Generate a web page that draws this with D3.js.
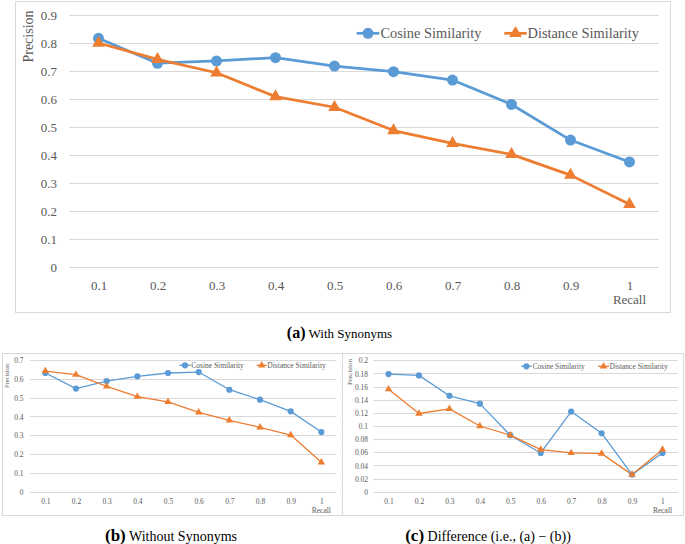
<!DOCTYPE html>
<html>
<head>
<meta charset="utf-8">
<script src="https://cdn.jsdelivr.net/npm/d3@7"></script>
<style>
  body { margin: 0; background: #fff; }
  svg text { font-family: "Liberation Serif", "Times New Roman", serif; }
  .tick text { fill: #595959; }
</style>
</head>
<body>
<div id="chart"></div>
<script>
// Recall levels (x categories)
const recall = ["0.1", "0.2", "0.3", "0.4", "0.5", "0.6", "0.7", "0.8", "0.9", "1"];

// (a) with synonyms
const cosineWith   = [0.817, 0.728, 0.736, 0.748, 0.718, 0.698, 0.668, 0.581, 0.454, 0.376];
const distanceWith = [0.800, 0.742, 0.694, 0.609, 0.571, 0.488, 0.442, 0.403, 0.329, 0.225];

// (b) without synonyms
const cosineWithout   = [0.631, 0.548, 0.588, 0.613, 0.631, 0.636, 0.542, 0.489, 0.427, 0.317];
const distanceWithout = [0.641, 0.622, 0.560, 0.505, 0.478, 0.422, 0.379, 0.342, 0.301, 0.156];

// (c) difference
const cosineDiff   = [0.179, 0.177, 0.146, 0.134, 0.086, 0.059, 0.122, 0.089, 0.026, 0.059];
const distanceDiff = [0.156, 0.119, 0.126, 0.100, 0.086, 0.064, 0.059, 0.058, 0.026, 0.064];

// y tick labels
const yTicksWith    = ["0", "0.1", "0.2", "0.3", "0.4", "0.5", "0.6", "0.7", "0.8", "0.9"];
const yTicksWithout = ["0", "0.1", "0.2", "0.3", "0.4", "0.5", "0.6", "0.7"];
const yTicksDiff    = ["0", "0.02", "0.04", "0.06", "0.08", "0.1", "0.12", "0.14", "0.16", "0.18", "0.2"];

const seriesNames = ["Cosine Similarity", "Distance Similarity"];
const BLUE = "#5b9bd5", ORANGE = "#ed7d31", GRID = "#d9d9d9";

const svg = d3.select("#chart").append("svg").attr("width", 685).attr("height", 544);

/*
 p: layout of one panel
 box [x0, y0, x1, y1], plot [x0, x1, yBottom, yTop]
*/
function drawPanel(p, cos, dist, yTicks) {
	const g = svg.append("g");

	g.append("rect")
		.attr("x", p.box[0] + 0.5).attr("y", p.box[1] + 0.5)
		.attr("width", p.box[2] - p.box[0] - 1).attr("height", p.box[3] - p.box[1] - 1)
		.attr("fill", "none").attr("stroke", GRID).attr("stroke-width", 1);

	const x = d3.scalePoint().domain(recall).range([p.plot[0], p.plot[1]]).padding(0.5);
	const yMax = +yTicks[yTicks.length - 1];
	const y = d3.scaleLinear([0, yMax], [p.plot[2], p.plot[3]]);

	// grid
	g.append("g").selectAll("line").data(yTicks).join("line")
		.attr("x1", p.plot[0]).attr("x2", p.plot[1])
		.attr("y1", d => Math.round(y(+d)) + 0.5).attr("y2", d => Math.round(y(+d)) + 0.5)
		.attr("stroke", GRID).attr("stroke-width", 1);

	// y axis labels
	const axY = g.append("g")
		.attr("transform", `translate(${p.yLabelX}, 0)`)
		.call(d3.axisLeft(y).tickValues(yTicks.map(Number)).tickSize(0).tickPadding(0)
			.tickFormat((d, i) => yTicks[i]));
	axY.select(".domain").remove();
	axY.attr("font-size", p.tickFont);
	axY.selectAll("text").attr("dy", "0.35em");

	// x axis labels
	const axX = g.append("g")
		.attr("transform", `translate(0, ${p.xLabelY})`)
		.call(d3.axisBottom(x).tickSize(0).tickPadding(0));
	axX.select(".domain").remove();
	axX.attr("font-size", p.tickFont);
	axX.selectAll("text").attr("dy", "0.35em");

	g.append("text")
		.attr("x", x("1")).attr("y", p.recallY).attr("dy", "0.35em")
		.attr("text-anchor", "middle").attr("font-size", p.tickFont).attr("fill", "#595959")
		.text("Recall");

	g.append("text")
		.attr("transform", `translate(${p.precision[0]}, ${p.precision[1]}) rotate(-90)`)
		.attr("dy", "0.35em").attr("text-anchor", "middle")
		.attr("font-size", p.precisionFont).attr("fill", "#595959")
		.text("Precision");

	// lines + markers
	const line = d3.line().x((d, i) => x(recall[i])).y(d => y(d));
	const tri = d3.symbol(d3.symbolTriangle, p.triSize);

	g.append("path").datum(cos).attr("d", line)
		.attr("fill", "none").attr("stroke", BLUE).attr("stroke-width", p.lineW).attr("stroke-linejoin", "round");
	g.append("path").datum(dist).attr("d", line)
		.attr("fill", "none").attr("stroke", ORANGE).attr("stroke-width", p.lineW).attr("stroke-linejoin", "round");

	g.append("g").selectAll("circle").data(cos).join("circle")
		.attr("cx", (d, i) => x(recall[i])).attr("cy", d => y(d)).attr("r", p.r)
		.attr("fill", BLUE);
	g.append("g").selectAll("path").data(dist).join("path")
		.attr("transform", (d, i) => `translate(${x(recall[i])}, ${y(d)})`)
		.attr("d", tri).attr("fill", ORANGE);

	// legend
	const lg = g.append("g").attr("transform", `translate(0, ${p.legend.y})`);
	[BLUE, ORANGE].forEach((c, k) => {
		const [l0, l1, tx, tl] = p.legend.items[k];
		lg.append("line").attr("x1", l0).attr("x2", l1).attr("y1", 0).attr("y2", 0)
			.attr("stroke", c).attr("stroke-width", p.lineW);
		if (k === 0) lg.append("circle").attr("cx", (l0 + l1) / 2).attr("cy", 0).attr("r", p.r).attr("fill", c);
		else lg.append("path").attr("transform", `translate(${(l0 + l1) / 2}, 0)`).attr("d", tri).attr("fill", c);
		lg.append("text").attr("x", tx).attr("y", 0).attr("dy", "0.35em")
			.attr("font-size", p.legend.font).attr("fill", "#595959")
			.attr("textLength", tl).attr("lengthAdjust", "spacingAndGlyphs")
			.text(seriesNames[k]);
	});

	// caption
	const cap = svg.append("text")
		.attr("x", p.caption.x).attr("y", p.caption.y).attr("dy", "0.35em")
		.attr("text-anchor", "middle").attr("fill", "#000");
	cap.append("tspan").attr("font-weight", "bold").attr("font-size", p.caption.big).text(p.caption.label);
	cap.append("tspan").attr("font-size", p.caption.small).text(" " + p.caption.text);
}

drawPanel({
	box: [15, 1, 671, 313], plot: [69, 659, 267.4, 15],
	yLabelX: 57, xLabelY: 285, recallY: 299.5, tickFont: 13,
	precision: [28, 36.5], precisionFont: 14,
	lineW: 2.75, r: 5.5, triSize: 70,
	legend: { y: 33.3, font: 14.5, items: [[356.7, 379.3, 380.5, 101], [504.3, 526.7, 527.5, 111.5]] },
	caption: { x: 339.5, y: 332, label: "(a)", text: "With Synonyms", big: 16, small: 13 }
}, cosineWith, distanceWith, yTicksWith);

drawPanel({
	box: [2, 353, 343, 516], plot: [30, 336.7, 491.7, 360],
	yLabelX: 23.5, xLabelY: 501, recallY: 510.3, tickFont: 7.5,
	precision: [6.7, 376], precisionFont: 6.5,
	lineW: 1.3, r: 3.1, triSize: 24,
	legend: { y: 365.3, font: 8, items: [[179.3, 190.7, 191.3, 52.5], [256.7, 266.7, 267.3, 58.5]] },
	caption: { x: 171, y: 535, label: "(b)", text: "Without Synonyms", big: 17, small: 14 }
}, cosineWithout, distanceWithout, yTicksWithout);

drawPanel({
	box: [342, 353, 684, 516], plot: [373.3, 677.7, 491.7, 360.3],
	yLabelX: 368, xLabelY: 501, recallY: 510.3, tickFont: 7.5,
	precision: [349.3, 372], precisionFont: 7,
	lineW: 1.3, r: 3.1, triSize: 24,
	legend: { y: 366.3, font: 8, items: [[521, 531.7, 532.7, 52], [598, 609, 609.5, 58.2]] },
	caption: { x: 488, y: 535, label: "(c)", text: "Difference (i.e., (a) \u2212 (b))", big: 17, small: 14 }
}, cosineDiff, distanceDiff, yTicksDiff);
</script>
</body>
</html>
